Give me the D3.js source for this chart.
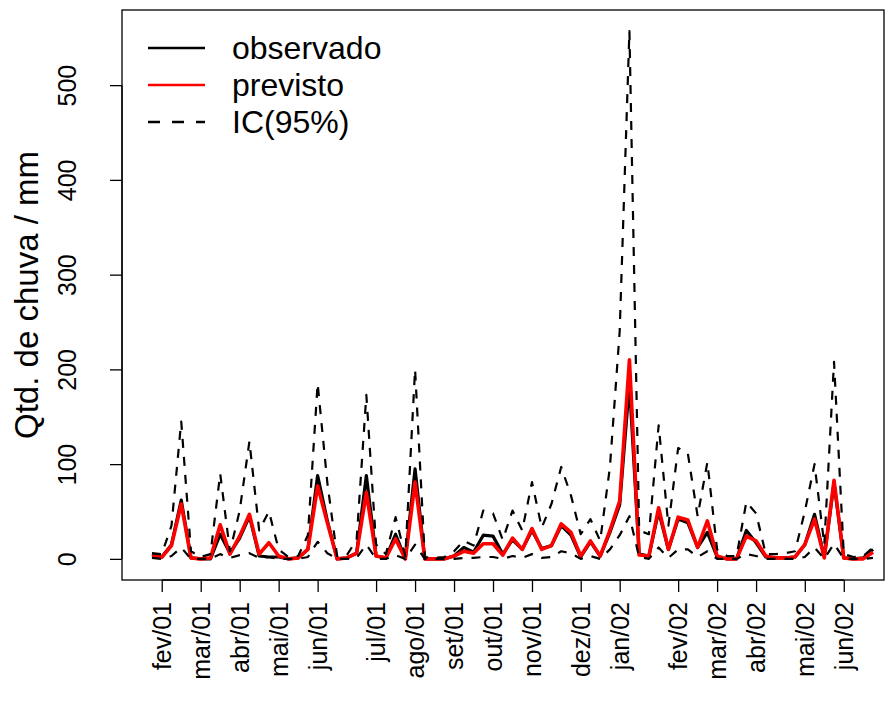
<!DOCTYPE html>
<html>
<head>
<meta charset="utf-8">
<script src="https://cdn.jsdelivr.net/npm/d3@7"></script>
<style>
  body { margin: 0; background: #fff; }
  text { font-family: "Liberation Sans", Arial, sans-serif; }
</style>
</head>
<body>
<svg id="chart" width="891" height="707"></svg>
<script>
// weekly series, x = observation index
const observado = [5, 2, 15, 62, 1, 0, 0, 26, 6, 22, 45, 3, 2, 2, 0, 1, 10, 88, 40, 0,
  1, 6, 88, 3, 1, 26, 0, 95, 0, 0, 0, 3, 12, 7, 25, 24, 5, 20, 10, 30,
  11, 14, 35, 25, 2, 18, 3, 28, 57, 185, 5, 3, 50, 10, 42, 38, 12, 28, 2, 0,
  0, 30, 17, 2, 1, 1, 2, 15, 47, 2, 80, 1, 0, 1, 10];
const previsto = [3, 1.5, 14, 58, 1, 0, 1, 36, 5, 24, 47, 5, 17, 3, 0, 1, 10, 77, 38, 0,
  1, 6, 70, 3, 1, 21, 0, 81, 0, 0, 0, 3, 8, 6, 16, 16, 4, 22, 10, 32,
  10, 14, 37, 28, 3, 19, 3, 30, 61, 210, 4, 3, 54, 10, 44, 41, 12, 40, 3, 0,
  0, 24, 19, 3, 1, 1, 2, 15, 42, 1, 83, 1, 0, 0, 7];
const icSup = [6, 5, 35, 145, 8, 2, 5, 90, 8, 51, 124, 30, 50, 10, 2, 3, 25, 185, 80, 3,
  4, 20, 173, 15, 5, 44, 3, 200, 2, 1, 2, 8, 19, 14, 51, 48, 20, 51, 30, 81,
  33, 58, 97, 67, 26, 42, 19, 97, 240, 557, 30, 26, 141, 35, 117, 111, 45, 102, 10, 3,
  3, 60, 48, 5, 5, 6, 8, 50, 100, 15, 208, 5, 2, 3, 12];
const icInf = [1, 0, 3, 12, 0, 0, 0, 5, 1, 4, 6, 1, 2, 0, 0, 0, 2, 18, 6, 0,
  0, 1, 15, 0, 0, 4, 0, 15, 0, 0, 0, 0, 1, 1, 2, 2, 0, 3, 1, 5,
  1, 2, 8, 6, 0, 3, 0, 10, 25, 45, 2, 0, 12, 1, 10, 10, 2, 8, 0, 0,
  0, 5, 3, 0, 0, 0, 0, 2, 12, 0, 16, 0, 0, 0, 1];

const mesLabels = ["fev/01", "mar/01", "abr/01", "mai/01", "jun/01", "jul/01", "ago/01", "set/01",
  "out/01", "nov/01", "dez/01", "jan/02", "fev/02", "mar/02", "abr/02", "mai/02", "jun/02"];
const mesIndex = [1, 5, 9, 13, 17, 23, 27, 31, 35, 39, 44, 48, 54, 58, 62, 67, 71];
const yTicks = [0, 100, 200, 300, 400, 500];

const svg = d3.select("#chart");
const mLeft = 122, mRight = 884, mTop = 10, mBottom = 580;

const x = d3.scaleLinear().domain([0, observado.length - 1]).range([152, 873]);
const y = d3.scaleLinear().domain([-22.3, 579.3]).range([mBottom, mTop]);

// box
svg.append("rect")
  .attr("x", mLeft).attr("y", mTop)
  .attr("width", mRight - mLeft).attr("height", mBottom - mTop)
  .attr("fill", "none").attr("stroke", "#000").attr("stroke-width", 1.3);

// y axis
const yAxis = svg.append("g").attr("transform", `translate(${mLeft},0)`)
  .call(d3.axisLeft(y).tickValues(yTicks).tickSize(12).tickSizeOuter(0));
yAxis.select(".domain").attr("d", `M0,${y(0)}V${y(500)}`).attr("stroke-width", 1.3);
yAxis.selectAll(".tick line").attr("stroke-width", 1.3);
yAxis.selectAll(".tick text")
  .attr("font-size", 25).attr("fill", "#000")
  .attr("text-anchor", "middle")
  .attr("transform", "rotate(-90)")
  .attr("x", 0).attr("y", -55).attr("dy", "0.35em");

// x axis
const xAxis = svg.append("g").attr("transform", `translate(0,${mBottom})`)
  .call(d3.axisBottom(x).tickValues(mesIndex).tickSize(12).tickSizeOuter(0)
    .tickFormat((d, i) => mesLabels[i]));
xAxis.select(".domain").attr("d", `M${x(mesIndex[0])},0H${x(mesIndex[mesIndex.length - 1])}`)
  .attr("stroke-width", 1.3);
xAxis.selectAll(".tick line").attr("stroke-width", 1.3);
xAxis.selectAll(".tick text")
  .attr("font-size", 25).attr("fill", "#000")
  .attr("text-anchor", "end")
  .attr("transform", "rotate(-90)")
  .attr("x", -22).attr("y", 0).attr("dy", "0.35em");

// y title
svg.append("text")
  .attr("transform", `translate(38,${(mTop + mBottom) / 2}) rotate(-90)`)
  .attr("text-anchor", "middle")
  .attr("font-size", 33)
  .text("Qtd. de chuva / mm");

const line = d3.line().x((d, i) => x(i)).y(d => y(d));

svg.append("path").datum(observado)
  .attr("d", line).attr("fill", "none")
  .attr("stroke", "#000").attr("stroke-width", 3.2).attr("stroke-linejoin", "round");

svg.append("path").datum(previsto)
  .attr("d", line).attr("fill", "none")
  .attr("stroke", "#ff0000").attr("stroke-width", 3.6).attr("stroke-linejoin", "round");

[icInf, icSup].forEach(s => {
  svg.append("path").datum(s)
    .attr("d", line).attr("fill", "none")
    .attr("stroke", "#000").attr("stroke-width", 2.2)
    .attr("stroke-dasharray", "9,9").attr("stroke-linejoin", "round");
});

// legend
const legend = [
  { label: "observado", color: "#000", dash: null },
  { label: "previsto", color: "#ff0000", dash: null },
  { label: "IC(95%)", color: "#000", dash: "12,12" }
];
legend.forEach((d, i) => {
  const ly = 48 + i * 37;
  svg.append("line")
    .attr("x1", 148).attr("x2", 205).attr("y1", ly).attr("y2", ly)
    .attr("stroke", d.color).attr("stroke-width", 2.6)
    .attr("stroke-dasharray", d.dash);
  svg.append("text")
    .attr("x", 232).attr("y", ly).attr("dy", "0.35em")
    .attr("font-size", 32)
    .text(d.label);
});
</script>
</body>
</html>
